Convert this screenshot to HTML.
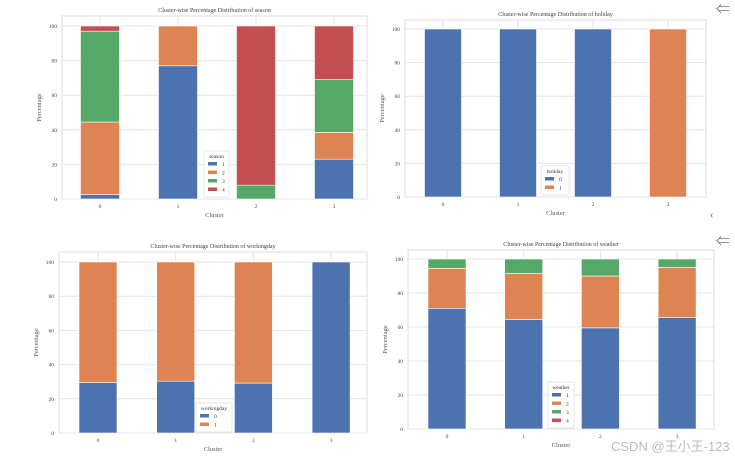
<!DOCTYPE html>
<html><head><meta charset="utf-8"><style>
body{margin:0;background:#fff;width:735px;height:458px;overflow:hidden;position:relative;font-family:"Liberation Serif","Noto Serif CJK SC",serif}
svg{position:absolute;left:0;top:0}
.wm{position:absolute;left:611px;top:436px;font:13px "Liberation Sans","Noto Sans CJK SC",sans-serif;color:#bbb}
</style></head><body>
<svg id="c" width="735" height="458"></svg>
<div class="wm">CSDN @王小王-123</div>
<script>
const clusters = ["0","1","2","3"];
const yTicks = [0,20,40,60,80,100];
const colors = ["#4c72b0","#dd8452","#55a868","#c44e52"];
const seasonLabels = ["1","2","3","4"];
const season1 = [2.5,77,0,23];
const season2 = [42,23,0,15.5];
const season3 = [52.5,0,8,30.5];
const season4 = [3,0,92,31];
const holidayLabels = ["0","1"];
const holiday0 = [100,100,100,0];
const holiday1 = [0,0,0,100];
const workLabels = ["0","1"];
const work0 = [29.5,30.3,29.2,100];
const work1 = [70.5,69.7,70.8,0];
const weatherLabels = ["1","2","3","4"];
const weather1 = [71,64.5,59.5,65.5];
const weather2 = [23.5,27,30.5,29.5];
const weather3 = [5.5,8.5,10,5];
const weather4 = [0,0,0,0];

const NS="http://www.w3.org/2000/svg";
const svg=document.getElementById('c');
function el(tag,attrs,parent,text){const e=document.createElementNS(NS,tag);for(const k in attrs)e.setAttribute(k,attrs[k]);if(text!==undefined)e.textContent=text;(parent||svg).appendChild(e);return e;}

function panel(p){
  const g=el('g',{});
  
  
  const y=v=>p.y0-(p.y0-p.y100)*v/100;
  const x=i=>p.cx0+i*p.dx;
  el('rect',{x:p.l,y:p.t,width:p.r-p.l,height:p.y0-p.t,fill:'#fff',stroke:'#dcdcdc','stroke-width':1},g);
  yTicks.forEach(t=>{
    const l=el('line',{x1:p.l,x2:p.r,y1:y(t),y2:y(t),stroke:'#e3e3e3','stroke-width':1},g);
    
    const tx=el('text',{x:p.l-5,y:y(t)+2,'font-size':5.5,'text-anchor':'end',fill:'#444'},g,String(t));
    
  });
  clusters.forEach((c,i)=>{
    el('line',{x1:x(i),x2:x(i),y1:p.t,y2:p.y0,stroke:'#e3e3e3','stroke-width':1},g);
    const tx=el('text',{x:x(i),y:p.y0+9,'font-size':5.5,'text-anchor':'middle',fill:'#444'},g,c);
    
  });
  clusters.forEach((c,i)=>{
    let acc=0;
    p.series.forEach((s,k)=>{
      const v=s[i]; if(v<=0){return;}
      const r=el('rect',{x:x(i)-p.bw/2,y:y(acc+v),width:p.bw,height:y(acc)-y(acc+v),fill:colors[k],stroke:'#fff','stroke-width':0.6},g);
      
      acc+=v;
    });
  });
  const t=el('text',{x:(p.l+p.r)/2,y:p.t-4,'font-size':6,'text-anchor':'middle',fill:'#444'},g,'Cluster-wise Percentage Distribution of '+p.name);
  
  const xl=el('text',{x:(p.l+p.r)/2,y:p.y0+18,'font-size':6.5,'text-anchor':'middle',fill:'#555'},g,'Cluster');
  
  const yx=p.l-21,yy=(p.t+p.y0)/2;
  const yl=el('text',{x:yx,y:yy,'font-size':6.5,'text-anchor':'middle',fill:'#555',transform:`rotate(-90 ${yx} ${yy})`},g,'Percentage');
  
  const lg=el('g',{},g);
  
  const n=p.labels.length;
  el('rect',{x:p.lx,y:p.ly,width:p.lw,height:12+n*8.5,fill:'#fff',stroke:'#ddd','stroke-width':0.7,rx:1},lg);
  el('text',{x:p.lx+p.lw/2,y:p.ly+7,'font-size':5.5,'text-anchor':'middle',fill:'#333'},lg,p.name);
  p.labels.forEach((lab,k)=>{
    const e=el('rect',{x:p.lx+4,y:p.ly+11+k*8.5,width:9,height:3.5,fill:colors[k]},lg);
    
    el('text',{x:p.lx+18,y:p.ly+15+k*8.5,'font-size':5.5,fill:'#333'},lg,lab);
  });
}
panel({name:'season',l:62,r:367,t:16,y0:199,y100:26,cx0:100,dx:78,bw:39,series:[season1,season2,season3,season4],labels:seasonLabels,lx:204,ly:151,lw:25});
panel({name:'holiday',l:405,r:706,t:20,y0:197,y100:29,cx0:443,dx:75,bw:37,series:[holiday0,holiday1],labels:holidayLabels,lx:541,ly:166,lw:28});
panel({name:'workingday',l:59,r:367,t:252,y0:433,y100:262,cx0:98,dx:77.7,bw:38,series:[work0,work1],labels:workLabels,lx:196,ly:403,lw:36});
panel({name:'weather',l:408,r:714,t:250,y0:429,y100:259,cx0:447,dx:76.7,bw:38,series:[weather1,weather2,weather3,weather4],labels:weatherLabels,lx:548,ly:382,lw:26});
const a1=el('text',{x:716,y:14,'font-size':14,fill:'#555'},svg,'⇐');

const a2=el('text',{x:716,y:246,'font-size':14,fill:'#555'},svg,'⇐');

const a3=el('text',{x:710,y:218,'font-size':10,fill:'#555'},svg,'‹');

</script>
</body></html>
